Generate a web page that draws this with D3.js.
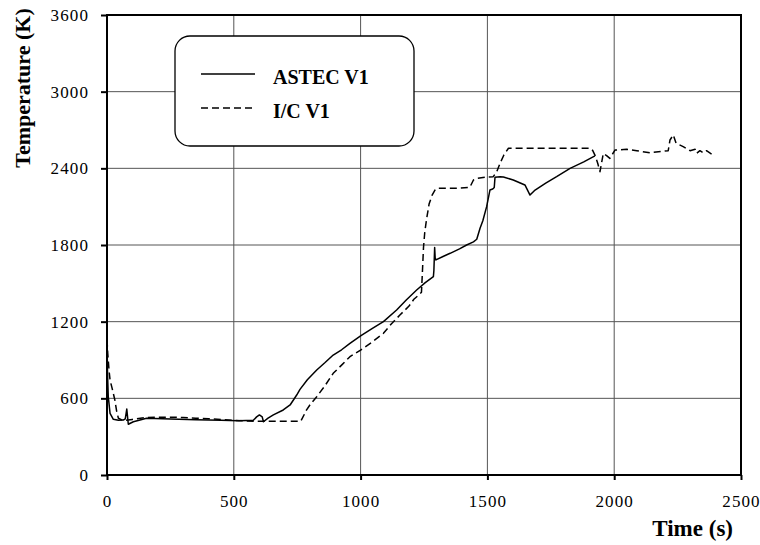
<!DOCTYPE html>
<html>
<head>
<meta charset="utf-8">
<script src="https://cdn.jsdelivr.net/npm/d3@7"></script>
<style>
  html, body { margin: 0; padding: 0; background: #fff; }
  svg { display: block; }
</style>
</head>
<body>
<svg id="chart" width="760" height="545"></svg>
<script>
// ---- Data ----
const astecTime = [0, 2, 5, 12, 25, 45, 64, 72, 78, 84, 104, 156, 250, 350, 450, 520, 577, 590, 601, 612, 617, 635, 656, 695, 722, 748, 761, 790, 827, 860, 892, 925, 958, 1000, 1045, 1090, 1142, 1180, 1221, 1255, 1287, 1289, 1292, 1294, 1297, 1325, 1353, 1390, 1418, 1445, 1458, 1471, 1482, 1497, 1510, 1518, 1524, 1527, 1530, 1550, 1563, 1602, 1648, 1668, 1688, 1730, 1773, 1826, 1880, 1924];
const astecTemp = [1050, 800, 613, 483, 436, 428, 430, 440, 516, 397, 417, 444, 438, 432, 428, 425, 428, 455, 470, 455, 417, 445, 470, 509, 548, 626, 670, 745, 822, 880, 939, 980, 1030, 1088, 1145, 1200, 1291, 1370, 1448, 1505, 1552, 1600, 1780, 1700, 1683, 1710, 1735, 1770, 1800, 1825, 1845, 1931, 1990, 2100, 2230, 2236, 2244, 2250, 2330, 2335, 2332, 2309, 2270, 2191, 2230, 2285, 2335, 2400, 2450, 2497];

const icTime = [0, 3, 8, 12, 20, 31, 38, 45, 64, 100, 150, 200, 250, 300, 350, 400, 450, 500, 550, 600, 650, 700, 764, 787, 800, 827, 860, 892, 925, 958, 1000, 1045, 1090, 1120, 1155, 1190, 1210, 1230, 1240, 1244, 1248, 1253, 1260, 1270, 1282, 1295, 1307, 1330, 1380, 1431, 1445, 1458, 1490, 1523, 1537, 1550, 1565, 1583, 1650, 1750, 1850, 1905, 1915, 1924, 1935, 1944, 1957, 1970, 1983, 2003, 2049, 2089, 2141, 2213, 2220, 2233, 2244, 2272, 2299, 2319, 2325, 2338, 2351, 2364, 2384];
const icTemp = [1060, 950, 820, 743, 680, 587, 500, 444, 425, 435, 450, 452, 452, 450, 445, 440, 435, 428, 423, 420, 420, 420, 420, 510, 548, 613, 700, 796, 860, 926, 978, 1040, 1109, 1180, 1252, 1320, 1375, 1410, 1430, 1600, 1780, 1900, 2000, 2120, 2190, 2235, 2244, 2244, 2244, 2252, 2309, 2322, 2330, 2335, 2374, 2440, 2504, 2557, 2557, 2557, 2557, 2557, 2540, 2504, 2440, 2374, 2517, 2500, 2478, 2543, 2549, 2538, 2522, 2538, 2622, 2661, 2596, 2570, 2538, 2549, 2517, 2538, 2522, 2538, 2512];

const xTicks = [0, 500, 1000, 1500, 2000, 2500];
const yTicks = [0, 600, 1200, 1800, 2400, 3000, 3600];
const seriesNames = ["ASTEC V1", "I/C V1"];
const xTitle = "Time (s)";
const yTitle = "Temperature (K)";

// ---- Layout ----
const svg = d3.select("#chart");
const pL = 107, pR = 741, pT = 15, pB = 475;
const x = d3.scaleLinear().domain([0, 2500]).range([pL, pR]);
const y = d3.scaleLinear().domain([0, 3600]).range([pB, pT]);
const serif = "Liberation Serif, Times New Roman, serif";

// gridlines
const grid = svg.append("g");
grid.selectAll("line.vx").data(xTicks.slice(1, -1)).enter().append("line")
  .attr("x1", d => x(d)).attr("x2", d => x(d))
  .attr("y1", pT).attr("y2", pB)
  .attr("stroke", "#555").attr("stroke-width", 1);
grid.selectAll("line.hy").data(yTicks.slice(1, -1)).enter().append("line")
  .attr("x1", pL).attr("x2", pR)
  .attr("y1", d => y(d)).attr("y2", d => y(d))
  .attr("stroke", "#555").attr("stroke-width", 1);

// axes (ticks + labels)
const fmt = d3.format("d");
const xAxis = svg.append("g").attr("transform", `translate(0,${pB})`)
  .call(d3.axisBottom(x).tickValues(xTicks).tickFormat(fmt).tickSize(5).tickSizeOuter(0).tickPadding(15));
const yAxis = svg.append("g").attr("transform", `translate(${pL},0)`)
  .call(d3.axisLeft(y).tickValues(yTicks).tickFormat(fmt).tickSize(6).tickSizeOuter(0).tickPadding(12));
[xAxis, yAxis].forEach(g => {
  g.attr("font-family", serif).attr("font-size", 17);
  g.select(".domain").remove();
  g.selectAll(".tick line").attr("stroke", "#000").attr("stroke-width", 2);
  g.selectAll(".tick text")
    .style("font-family", serif).style("font-size", "17px")
    .attr("letter-spacing", "1.1px").attr("fill", "#000");
});

// lines
const line = d3.line().x(d => x(d[0])).y(d => y(d[1]));
const astec = astecTime.map((t, i) => [t, astecTemp[i]]);
const ic = icTime.map((t, i) => [t, icTemp[i]]);

svg.append("path").datum(ic).attr("d", line)
  .attr("fill", "none").attr("stroke", "#000").attr("stroke-width", 1.5)
  .attr("stroke-dasharray", "7,4").attr("stroke-linejoin", "round");
svg.append("path").datum(astec).attr("d", line)
  .attr("fill", "none").attr("stroke", "#000").attr("stroke-width", 1.5)
  .attr("stroke-linejoin", "round");

// frame
svg.append("rect").attr("x", pL).attr("y", pT)
  .attr("width", pR - pL).attr("height", pB - pT)
  .attr("fill", "none").attr("stroke", "#000").attr("stroke-width", 2);

// legend
const lg = svg.append("g");
lg.append("rect").attr("x", 175).attr("y", 36).attr("width", 239).attr("height", 110)
  .attr("rx", 15).attr("ry", 15)
  .attr("fill", "#fff").attr("stroke", "#000").attr("stroke-width", 1.3);
const legY = [74, 108];
seriesNames.forEach((name, i) => {
  lg.append("line").attr("x1", 201).attr("x2", 255).attr("y1", legY[i]).attr("y2", legY[i])
    .attr("stroke", "#000").attr("stroke-width", 1.5)
    .attr("stroke-dasharray", i === 1 ? "7,4" : null);
  lg.append("text").attr("x", 273).attr("y", legY[i] + 9.5)
    .style("font-family", serif).attr("font-weight", "bold").attr("font-size", 20)
    .text(name);
});

// axis titles
svg.append("text").attr("x", 733).attr("y", 536).attr("text-anchor", "end")
  .style("font-family", serif).attr("font-weight", "bold").attr("font-size", 23)
  .text(xTitle);
svg.append("text").attr("transform", "translate(30,88) rotate(-90)")
  .attr("text-anchor", "middle")
  .style("font-family", serif).attr("font-weight", "bold").attr("font-size", 22)
  .text(yTitle);
</script>
</body>
</html>
